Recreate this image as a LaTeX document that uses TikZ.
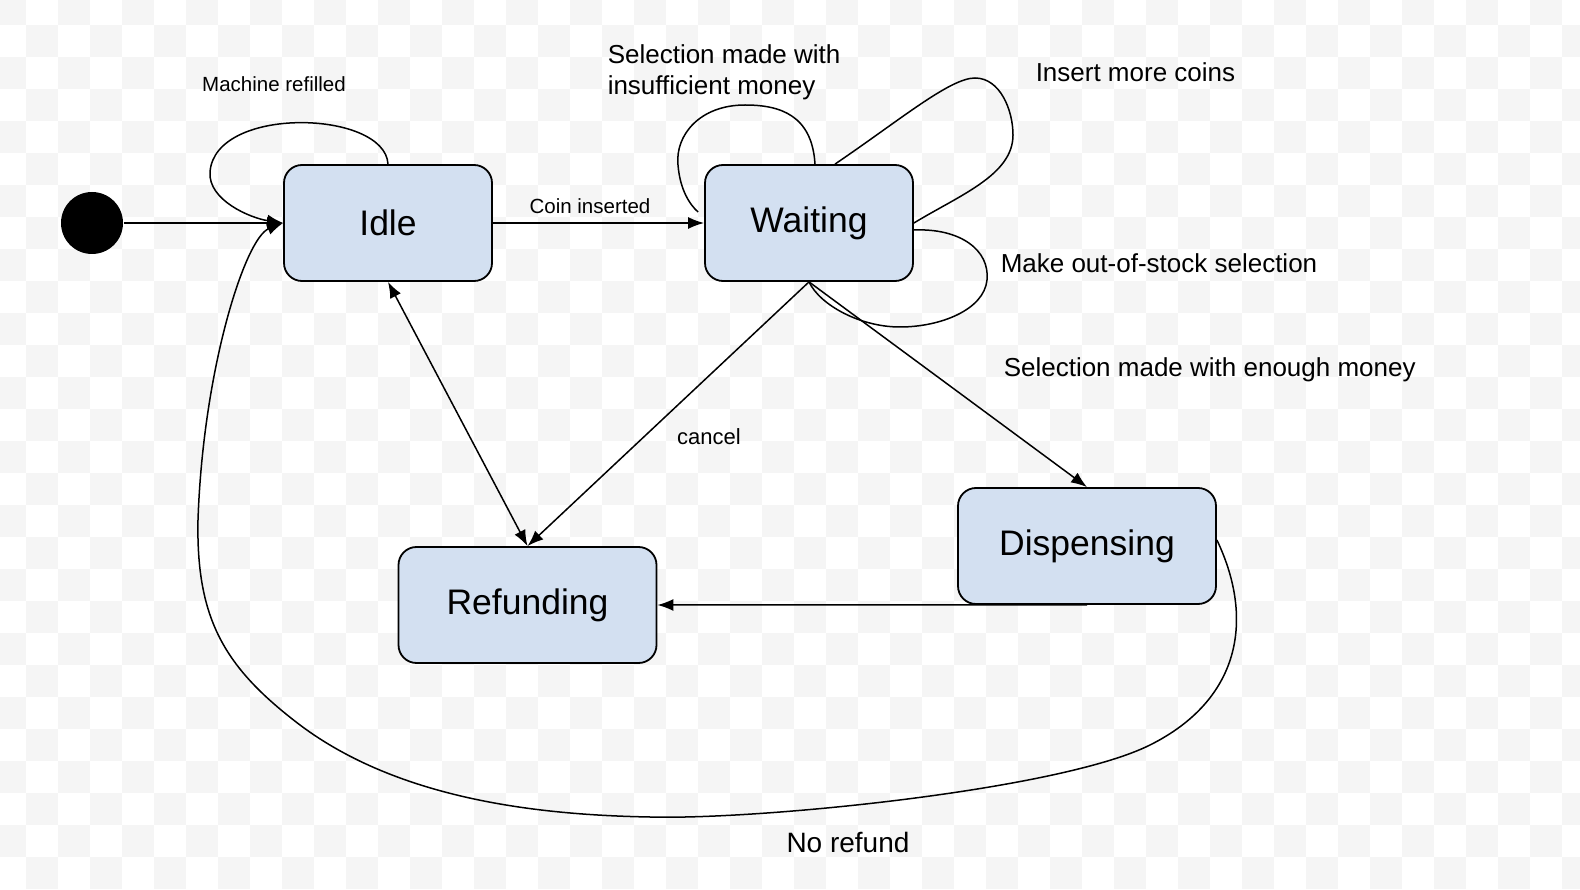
\documentclass[tikz,border=0pt]{standalone}
\usepackage{fontspec}
\setmainfont{Liberation Sans}
\usepackage{tikz}
\usetikzlibrary{arrows.meta}
\usepackage{xcolor}
\definecolor{statefill}{HTML}{D3E0F1}
\definecolor{checker}{HTML}{F5F5F5}

\begin{document}
\begin{tikzpicture}[x=1pt,y=-1pt,line width=1.5pt,
    >={Latex[length=16pt,width=12pt]},
    state/.style={draw,fill=statefill,rounded corners=18pt,line width=1.8pt,
        minimum width=208pt,minimum height=116pt,font=\fontsize{35.5pt}{40pt}\selectfont},
    wide/.style={minimum width=258pt},
    small/.style={font=\fontsize{20.5pt}{24pt}\selectfont},
    big/.style={font=\fontsize{26pt}{31pt}\selectfont}]
        \useasboundingbox (0,0) rectangle (1580,890);

        % background
        \fill[white] (0,0) rectangle (1580,890);
        \foreach \i in {0,2,...,48}
            \foreach \j in {0,2,...,26}{
                \fill[checker] (\i*32-6,\j*32-7) rectangle ++(32,32);
                \fill[checker] (\i*32+26,\j*32+25) rectangle ++(32,32);
            }

        % states
        \node[circle,fill=black,minimum size=62pt,inner sep=0pt] (init) at (92,223) {};
        \node[state] (idle) at (388,223) {Idle};
        \node[state] (waiting) at (809,223) {Waiting};
        \node[state,wide] (refunding) at (527.5,605) {Refunding};
        \node[state,wide] (dispensing) at (1087,546) {Dispensing};

        % transitions
        \draw[->] (init) -- (idle.west);
        \draw[->] (idle) -- (waiting);
        \node[small] at (590,206) {Coin inserted};

        \draw[->] (idle.north) .. controls (385,110) and (215,105) .. (210,172)
            .. controls (208,200) and (250,218) .. (idle.west);
        \node[small] at (274,84) {Machine refilled};

        \draw[<->] (refunding.north) -- (idle.south);
        \draw[->] (waiting.south) -- (refunding.north);
        \node[font=\fontsize{22pt}{26pt}\selectfont] at (709,437) {cancel};

        \draw[->] (waiting.south) -- (dispensing.north);
        \node[big,anchor=west,inner sep=0pt] at (1003,370) {Selection made with enough money};

        \draw[->] (dispensing.south) -- (refunding.east);

        \draw[->] ([yshift=6pt]dispensing.east) .. controls (1255,620) and (1240,700) .. (1150,745)
            .. controls (1060,790) and (760,820) .. (650,817)
            .. controls (540,815) and (400,800) .. (300,725)
            .. controls (225,668) and (196,620) .. (198,520)
            .. controls (203,370) and (245,238) .. (idle.west);
        \node[font=\fontsize{28pt}{32pt}\selectfont] at (848,842) {No refund};

        \draw ([xshift=6pt]waiting.north) .. controls (812,115) and (780,105) .. (745,105)
            .. controls (700,105) and (675,135) .. (678,165)
            .. controls (680,190) and (690,205) .. ([xshift=-6pt,yshift=11pt]waiting.west);
        \node[big,anchor=west,align=left,inner sep=0pt] at (607,72) {Selection made with\\insufficient money};

        \draw ([xshift=26pt]waiting.north) .. controls (900,120) and (950,78) .. (975,78)
            .. controls (1000,78) and (1013,110) .. (1013,135)
            .. controls (1013,175) and (960,195) .. (waiting.east);
        \node[big,anchor=west,inner sep=0pt] at (1035,72) {Insert more coins};

        \draw ([yshift=-7pt]waiting.east) .. controls (960,228) and (990,250) .. (987,280)
            .. controls (984,310) and (940,327) .. (900,327)
            .. controls (860,327) and (820,305) .. (waiting.south);
        \node[big,anchor=west,inner sep=0pt] at (1000,263) {Make out-of-stock selection};

    \end{tikzpicture}
\end{document}
